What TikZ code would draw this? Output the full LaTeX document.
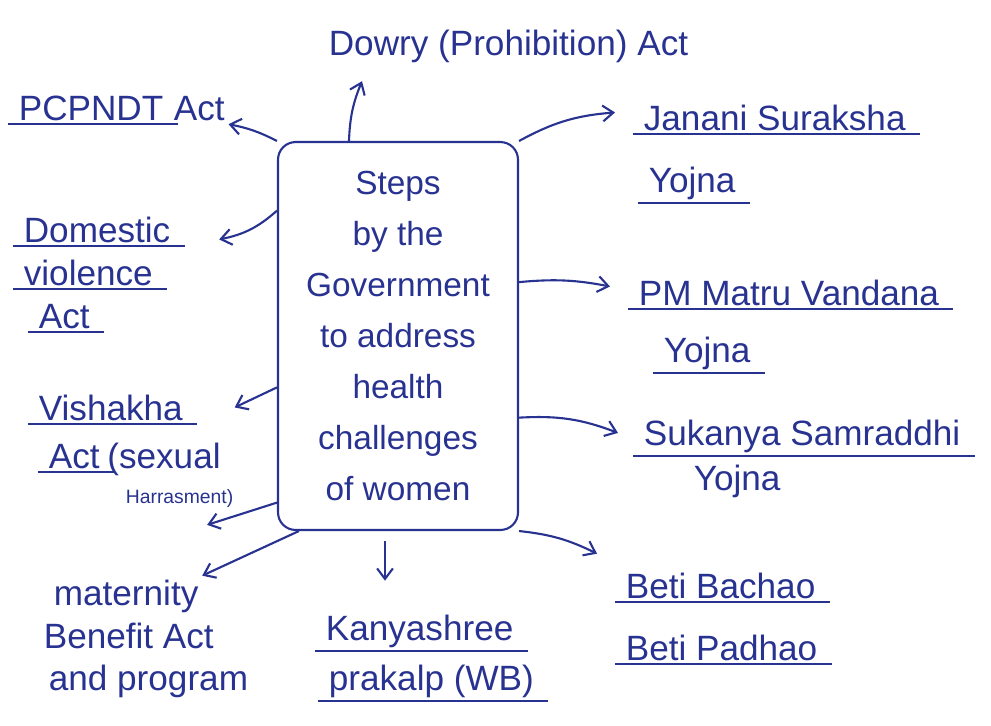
\documentclass[tikz,border=0pt]{standalone}
\usepackage{fontspec}
\setmainfont{Liberation Sans}
\usetikzlibrary{arrows.meta, positioning, calc}
\definecolor{inkblue}{RGB}{40,50,145}

\begin{document}
\begin{tikzpicture}[x=0.02cm, y=-0.02cm, >={Straight Barb[length=6pt,width=9pt]},
  ink/.style={draw=inkblue, line width=1.2pt},
  arrow/.style={ink, ->},
  uline/.style={ink, line width=1pt, shorten <=-4pt, shorten >=-6pt},
  lbl/.style={text=inkblue, font=\fontsize{20}{24}\selectfont, inner sep=2pt, anchor=base west},
  box/.style={ink, rounded corners=10pt, minimum width=4.8cm, minimum height=7.76cm,
              align=center, text=inkblue, font=\fontsize{19}{29}\selectfont}]
  \useasboundingbox (0,0) rectangle (991,725);

  % Central box
  \node[box] (steps) at (398,336)
    {Steps\\by the\\Government\\to address\\health\\challenges\\of women};

  % Acts on the left and top
  \node[lbl] (dowry) at (325,55) {Dowry (Prohibition) Act};
  \node[lbl] (pcpndt) at (15,120) {PCPNDT};
  \node[lbl] (pcact) at (170,120) {Act};
  \node[lbl] (dom1) at (20,242) {Domestic};
  \node[lbl] (dom2) at (20,285) {violence};
  \node[lbl] (dom3) at (35,328) {Act};
  \node[lbl] (vis1) at (35,420) {Vishakha};
  \node[lbl] (vis2) at (45,468) {Act};
  \node[lbl, right=0pt of vis2.base east, anchor=base west] (vissex) {(sexual};
  \node[lbl, font=\fontsize{11}{13}\selectfont] (vis3) at (122,503) {Harrasment)};
  \node[lbl] (mat1) at (50,605) {maternity};
  \node[lbl] (mat2) at (40,648) {Benefit Act};
  \node[lbl] (mat3) at (45,690) {and program};

  % Schemes on the bottom and right
  \node[lbl] (kan1) at (322,640) {Kanyashree};
  \node[lbl] (kan2) at (325,690) {prakalp (WB)};
  \node[lbl] (beti1) at (622,598) {Beti Bachao};
  \node[lbl] (beti2) at (622,660) {Beti Padhao};
  \node[lbl] (suk1) at (640,445) {Sukanya Samraddhi};
  \node[lbl] (suk2) at (690,490) {Yojna};
  \node[lbl] (pm1) at (635,305) {PM Matru Vandana};
  \node[lbl] (pm2) at (660,362) {Yojna};
  \node[lbl] (jan1) at (640,130) {Janani Suraksha};
  \node[lbl] (jan2) at (645,192) {Yojna};

  % Underlines
  \foreach \n in {pcpndt,dom1,dom2,dom3,vis1,vis2,kan1,kan2,beti1,beti2,suk1,pm1,pm2,jan1,jan2}
    \draw[uline] (\n.south west) -- (\n.south east);

  % Arrows out of the box
  \draw[arrow] ($(steps.north west)+(72,0)$) to[bend left=10] ($(dowry.south west)+(37,15)$);
  \draw[arrow] (steps.north west) to[bend right=8] (pcact.south east);
  \draw[arrow] (steps.134) to[bend left=15] ($(dom1.east)+(45,10)$);
  \draw[arrow] (steps.203) -- ($(vis1.east)+(48,0)$);
  \draw[arrow] (steps.234) -- ($(vis3.south east)+(-30,14)$);
  \draw[arrow] ($(steps.south west)+(22,0)$) -- (mat1.north east);
  \draw[arrow] ($(steps.south)+(-13,10)$) -- ($(kan1.north west)+(63,-30)$);
  \draw[arrow] (steps.south east) to[bend left=10] ($(beti1.north west)+(-25,-15)$);
  \draw[arrow] (steps.-34) to[bend left=12] ($(suk1.west)+(-22,-3)$);
  \draw[arrow] (steps.24) to[bend left=8] ($(pm1.west)+(-25,-6)$);
  \draw[arrow] (steps.north east) to[bend left=12] ($(jan1.west)+(-25,-5)$);
\end{tikzpicture}
\end{document}
